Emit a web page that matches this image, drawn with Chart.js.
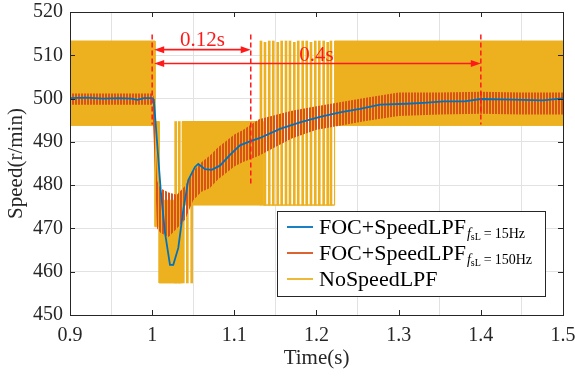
<!DOCTYPE html>
<html>
<head>
<meta charset="utf-8">
<script src="https://cdn.jsdelivr.net/npm/chart.js@4"></script>
<style>
    html, body { margin: 0; padding: 0; background: #fff; }
</style>
</head>
<body>
<canvas id="speedChart" width="575" height="376"></canvas>
<script>
// FOC+SpeedLPF, fsL = 15Hz (blue)
const blueT = [0.9, 0.92, 0.94, 0.96, 0.975, 0.982, 0.99, 1.0, 1.002, 1.0104, 1.0156, 1.0217, 1.0257,
    1.0318, 1.0379, 1.044, 1.0521, 1.0561, 1.0643, 1.0724, 1.0825, 1.0947, 1.1069, 1.119, 1.1312,
    1.1556, 1.1799, 1.2043, 1.2286, 1.2529, 1.2773, 1.31, 1.33, 1.355, 1.38, 1.4, 1.44, 1.475, 1.5];
const blueV = [500.1, 500.2, 500.0, 500.1, 500.0, 499.7, 500.1, 500.1, 499.8, 478.9, 469.0, 461.6, 461.6,
    465.5, 474.3, 481.2, 484.2, 484.9, 483.7, 483.55, 484.5, 487.0, 489.2, 490.1, 490.9,
    493.0, 494.5, 495.75, 496.8, 497.6, 498.6, 498.8, 499.0, 499.35, 499.35, 499.9, 499.75, 499.6, 500.05];

// FOC+SpeedLPF, fsL = 150Hz (red) - envelope of the ripple
const redT  = [0.9, 1.0, 1.002, 1.006, 1.01, 1.02, 1.03, 1.04, 1.05, 1.06, 1.07, 1.08, 1.09, 1.1, 1.11,
    1.13, 1.15, 1.17, 1.2, 1.23, 1.26, 1.3, 1.35, 1.4, 1.45, 1.5];
const redHi = [501.2, 501.2, 500.5, 481.0, 479.3, 478.3, 477.8, 479.8, 483.3, 485.3, 486.8, 488.7, 490.2, 491.7, 492.7,
    495.2, 496.2, 497.2, 498.2, 499.2, 500.2, 501.4, 501.4, 501.6, 501.4, 501.4];
const redLo = [498.6, 498.6, 490.0, 470.0, 469.0, 468.0, 470.0, 472.0, 476.5, 478.5, 479.3, 481.3, 482.8, 484.3, 485.3,
    486.8, 488.8, 490.8, 492.8, 493.8, 494.8, 496.0, 496.3, 496.5, 496.3, 496.3];

// NoSpeedLPF (yellow) - outline of the dense band
const yellowT  = [0.9, 1.0035, 1.0035, 1.0085, 1.0085, 1.0365, 1.0365, 1.135, 1.135, 1.222, 1.222, 1.5];
const yellowHi = [513.3, 513.3, 494.7, 494.7, 476.5, 476.5, 494.7, 494.7, 475.4, 475.4, 513.3, 513.3];
const yellowLo = [493.8, 493.8, 470.4, 470.4, 457.4, 457.4, 475.4, 475.4, 475.4, 475.4, 493.8, 493.8];

// NoSpeedLPF isolated spikes
const spikeT  = [1.0286, 1.0330, 1.0379, 1.0428, 1.0481,
    1.1324, 1.1373, 1.1425, 1.1474, 1.1528, 1.1576, 1.1629, 1.1677, 1.1730, 1.1778,
    1.1832, 1.1881, 1.1933, 1.1985, 1.2034, 1.2087, 1.2136, 1.2176];
const spikeHi = [494.7, 494.7, 494.7, 494.7, 494.7,
    513.3, 513.0, 513.3, 513.3, 513.0, 513.3, 513.3, 513.3, 513.0, 513.3,
    513.3, 513.3, 513.0, 513.3, 513.3, 513.3, 513.0, 513.3];
const spikeLo = [457.4, 457.4, 457.4, 457.4, 457.4,
    475.4, 475.4, 475.4, 475.4, 475.4, 475.4, 475.4, 475.4, 475.4, 475.4,
    475.4, 475.4, 475.4, 475.4, 475.4, 475.4, 475.4, 475.4];

// markers: dashed lines and spans
const markT   = [1.0, 1.12, 1.4];
const markTop = [514.8, 514.8, 514.8];
const markBot = [494.0, 479.8, 494.0];
const spanFrom  = [1.0, 1.0];
const spanTo    = [1.12, 1.4];
const spanY     = [511.3, 508.1];
const spanText  = ["0.12s", "0.4s"];
const spanTextX = [1.0613, 1.2];
const spanTextY = [512.1, 508.6];

const legendMain = ["FOC+SpeedLPF", "FOC+SpeedLPF", "NoSpeedLPF"];
const legendSub  = ["15Hz", "150Hz", null];

const BLUE = "#0072BD";
const RED = "#D95319";
const YELLOW = "#EDB120";
const SERIF = "'Liberation Serif', 'DejaVu Serif', serif";

const toPoints = (ts, vs) => ts.map((t, i) => ({ x: t, y: vs[i] }));

function stripePattern(color, period, on) {
    const c = document.createElement("canvas");
    c.width = period;
    c.height = 4;
    const g = c.getContext("2d");
    g.fillStyle = color;
    g.fillRect(0, 0, on, 4);
    return g.createPattern(c, "repeat");
}

// box, inward ticks
const framePlugin = {
    id: "frame",
    afterDatasetsDraw(chart) {
        const { ctx, chartArea: a, scales } = chart;
        ctx.save();
        ctx.strokeStyle = "#262626";
        ctx.lineWidth = 1;
        ctx.beginPath();
        scales.x.ticks.forEach(t => {
            const px = Math.round(scales.x.getPixelForValue(t.value)) + 0.5;
            ctx.moveTo(px, a.bottom); ctx.lineTo(px, a.bottom - 5);
            ctx.moveTo(px, a.top); ctx.lineTo(px, a.top + 5);
        });
        scales.y.ticks.forEach(t => {
            const py = Math.round(scales.y.getPixelForValue(t.value)) + 0.5;
            ctx.moveTo(a.left, py); ctx.lineTo(a.left + 5, py);
            ctx.moveTo(a.right, py); ctx.lineTo(a.right - 5, py);
        });
        ctx.stroke();
        ctx.strokeRect(Math.round(a.left) + 0.5, Math.round(a.top) + 0.5,
            Math.round(a.right - a.left), Math.round(a.bottom - a.top));
        ctx.restore();
    }
};

function arrowHead(ctx, x, y, dir) {
    ctx.beginPath();
    ctx.moveTo(x, y);
    ctx.lineTo(x - dir * 10, y - 3.5);
    ctx.lineTo(x - dir * 10, y + 3.5);
    ctx.closePath();
    ctx.fill();
}

const markPlugin = {
    id: "marks",
    afterDatasetsDraw(chart) {
        const { ctx, scales: { x, y } } = chart;
        ctx.save();
        ctx.strokeStyle = "#ff1a1a";
        ctx.fillStyle = "#ff1a1a";
        ctx.lineWidth = 1.5;
        ctx.setLineDash([5, 3]);
        markT.forEach((t, i) => {
            const px = x.getPixelForValue(t);
            ctx.beginPath();
            ctx.moveTo(px, y.getPixelForValue(markTop[i]));
            ctx.lineTo(px, y.getPixelForValue(markBot[i]));
            ctx.stroke();
        });
        ctx.setLineDash([]);
        ctx.lineWidth = 1.6;
        spanFrom.forEach((t, i) => {
            const x0 = x.getPixelForValue(t) + 2;
            const x1 = x.getPixelForValue(spanTo[i]);
            const py = y.getPixelForValue(spanY[i]);
            ctx.beginPath();
            ctx.moveTo(x0 + 6, py); ctx.lineTo(x1 - 6, py);
            ctx.stroke();
            arrowHead(ctx, x0, py, -1);
            arrowHead(ctx, x1, py, 1);
        });
        ctx.font = "21px " + SERIF;
        ctx.textAlign = "center";
        ctx.textBaseline = "alphabetic";
        spanText.forEach((s, i) => {
            ctx.fillText(s, x.getPixelForValue(spanTextX[i]), y.getPixelForValue(spanTextY[i]));
        });
        ctx.restore();
    }
};

const legendPlugin = {
    id: "customLegend",
    afterDraw(chart) {
        const ctx = chart.ctx;
        const colors = [BLUE, RED, YELLOW];
        const box = { x: 277.5, y: 211.5, w: 268, h: 85 };
        ctx.save();
        ctx.fillStyle = "#fff";
        ctx.fillRect(box.x, box.y, box.w, box.h);
        ctx.strokeStyle = "#262626";
        ctx.lineWidth = 1;
        ctx.strokeRect(box.x, box.y, box.w, box.h);
        legendMain.forEach((label, i) => {
            const base = 234 + i * 26;
            ctx.strokeStyle = colors[i];
            ctx.lineWidth = 1.8;
            ctx.beginPath();
            ctx.moveTo(287, base - 7);
            ctx.lineTo(313, base - 7);
            ctx.stroke();
            ctx.fillStyle = "#000";
            ctx.textBaseline = "alphabetic";
            ctx.textAlign = "left";
            ctx.font = "22px " + SERIF;
            let cx = 319;
            ctx.fillText(label, cx, base);
            cx += ctx.measureText(label).width;
            if (legendSub[i]) {
                ctx.font = "italic 14px " + SERIF;
                ctx.fillText("f", cx + 1, base + 4);
                cx += ctx.measureText("f").width + 1;
                ctx.font = "10px " + SERIF;
                ctx.fillText("sL", cx, base + 6);
                cx += ctx.measureText("sL").width + 3;
                ctx.font = "14px " + SERIF;
                ctx.fillText("=", cx, base + 4);
                cx += ctx.measureText("=").width + 3;
                ctx.fillText(legendSub[i], cx, base + 4);
            }
        });
        ctx.restore();
    }
};

const tickFont = { family: SERIF, size: 20 };
const titleFont = { family: SERIF, size: 21 };

new Chart(document.getElementById("speedChart"), {
    type: "line",
    data: {
        datasets: [
            {
                label: "FOC+SpeedLPF 15Hz",
                data: toPoints(blueT, blueV),
                borderColor: BLUE,
                borderWidth: 1.8,
                pointRadius: 0,
                fill: false,
                order: 0
            },
            {
                label: "FOC+SpeedLPF 150Hz hi",
                data: toPoints(redT, redHi),
                borderColor: "transparent",
                borderWidth: 0,
                pointRadius: 0,
                backgroundColor: stripePattern(RED, 3, 2),
                fill: "+1",
                order: 1
            },
            {
                label: "FOC+SpeedLPF 150Hz lo",
                data: toPoints(redT, redLo),
                borderColor: "transparent",
                borderWidth: 0,
                pointRadius: 0,
                fill: false,
                order: 1
            },
            {
                type: "bar",
                label: "NoSpeedLPF spikes",
                data: spikeT.map((t, i) => ({ x: t, y: [spikeLo[i], spikeHi[i]] })),
                backgroundColor: YELLOW,
                barThickness: 2,
                grouped: false,
                order: 2
            },
            {
                label: "NoSpeedLPF hi",
                data: toPoints(yellowT, yellowHi),
                borderColor: YELLOW,
                borderWidth: 1,
                pointRadius: 0,
                backgroundColor: YELLOW,
                fill: "+1",
                tension: 0,
                order: 3
            },
            {
                label: "NoSpeedLPF lo",
                data: toPoints(yellowT, yellowLo),
                borderColor: YELLOW,
                borderWidth: 1,
                pointRadius: 0,
                fill: false,
                order: 3
            }
        ]
    },
    options: {
        responsive: false,
        animation: false,
        events: [],
        layout: { padding: { top: 12, right: 12, left: 0, bottom: 0 } },
        plugins: {
            legend: { display: false },
            tooltip: { enabled: false }
        },
        scales: {
            x: {
                type: "linear",
                min: 0.9,
                max: 1.5,
                offset: false,
                afterFit: s => {
                    s.height = 61;
                    s.paddingLeft = 0;
                    s.paddingRight = 0;
                },
                ticks: {
                    stepSize: 0.1,
                    autoSkip: false,
                    maxRotation: 0,
                    padding: 9,
                    color: "#262626",
                    font: tickFont,
                    callback: v => String(Math.round(v * 10) / 10)
                },
                grid: { color: "#e2e2e2", drawTicks: false },
                border: { display: false },
                title: {
                    display: true,
                    text: "Time(s)",
                    color: "#262626",
                    font: titleFont,
                    padding: { top: 0, bottom: 5 }
                }
            },
            y: {
                min: 450,
                max: 520,
                afterFit: s => {
                    s.width = 70;
                    s.paddingTop = 0;
                    s.paddingBottom = 0;
                },
                ticks: {
                    stepSize: 10,
                    padding: 7,
                    color: "#262626",
                    font: tickFont
                },
                grid: { color: "#e2e2e2", drawTicks: false },
                border: { display: false },
                title: {
                    display: true,
                    text: "Speed(r/min)",
                    color: "#262626",
                    font: titleFont,
                    padding: { top: 4, bottom: 0 }
                }
            }
        }
    },
    plugins: [framePlugin, markPlugin, legendPlugin]
});
</script>
</body>
</html>
